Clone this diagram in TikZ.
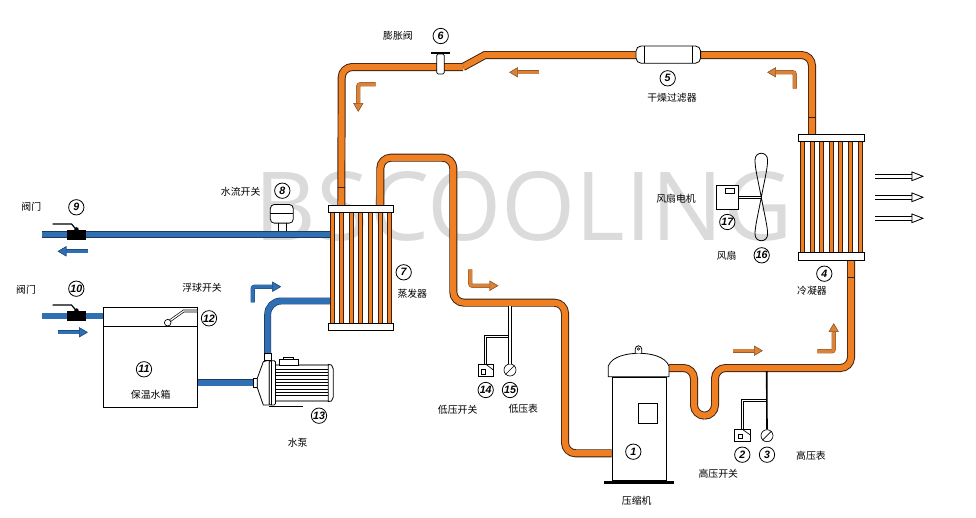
\documentclass[tikz,border=0pt]{standalone}
\usepackage{fontspec}
\setmainfont{Liberation Sans}
\newfontfamily\cjk{Noto Sans CJK SC}
\newfontfamily\wmfont{Open Sans}
\usetikzlibrary{arrows.meta}
\definecolor{pipeorange}{HTML}{EE7F22}
\definecolor{pipeblue}{HTML}{2F70B4}
\definecolor{pipeedge}{HTML}{3A2010}
\definecolor{blueedge}{HTML}{1C3A5C}
\definecolor{flowfill}{HTML}{D9823A}
\tikzset{
    pipe/.style={preaction={draw=pipeedge, line width=6pt}, draw=pipeorange, line width=4.6pt, rounded corners=8pt},
    waterpipe/.style={preaction={draw=blueedge, line width=5.2pt}, draw=pipeblue, line width=4.2pt, rounded corners=10pt},
    tube/.style={preaction={draw=pipeedge, line width=3.6pt}, draw=pipeorange, line width=2.6pt},
    branch/.style={preaction={draw=black, line width=2.4pt}, draw=white, line width=1pt},
    flowarrow/.style={preaction={draw=#1!70!black, line width=3.2pt, rounded corners=1.5pt}, draw=#1, line width=2.4pt, rounded corners=1.5pt,
        -{Triangle[length=6.5pt,width=7.5pt,fill=#1,color=#1!70!black,line width=0.4pt]}},
    outarrow/.style={preaction={draw=black, line width=3.4pt}, draw=white, line width=2.4pt,
        -{Triangle[length=9pt,width=7pt,fill=white,color=black,line width=0.5pt]}},
    header/.style={draw=black, fill=white, line width=0.6pt, minimum height=5.6pt, inner sep=0pt},
    part/.style={draw=black, fill=white, line width=0.6pt, inner sep=0pt},
    num/.style={draw=black, fill=white, circle, line width=0.6pt, minimum size=11.5pt, inner sep=0pt,
        font=\fontsize{8}{8}\selectfont\itshape\bfseries},
    lbl/.style={inner sep=0pt, font=\fontsize{7.4}{8}\cjk},
    gauge/.style={draw=black, fill=white, circle, line width=0.5pt, minimum size=9pt, inner sep=0pt},
    valvebody/.style={fill=black, minimum width=13.8pt, minimum height=7pt, inner sep=0pt},
}
\begin{document}
\begin{tikzpicture}[x=0.75pt, y=-0.75pt]
    \useasboundingbox (0,0) rectangle (976,518);
    \node[inner sep=0pt, text=black!14, font=\fontsize{71.5}{76}\wmfont] (watermark) at (524,206) {BSCOOLING};

    \coordinate (expin) at (485,55);
    \coordinate (evapin) at (341.3,206);
    \coordinate (evapout) at (380.3,206);
    \coordinate (compin) at (611.7,453.3);
    \coordinate (compout) at (669,368);
    \coordinate (condin) at (812,135);
    \coordinate (condout) at (851,260);
    \coordinate (pumpout) at (267.7,353.3);

    \draw[pipe] (condin) -- (812,55) -- (690,55);
    \draw[pipe, rounded corners=0pt] (646,55) -- (expin) -- (463,67);
    \draw[pipe] (463,67) -- (341.7,67) -- (evapin);
    \node[part, minimum width=48.5pt, minimum height=13pt, rounded corners=4pt] (filter) at (668.3,54.6) {};
    \draw[pipe] (evapout) -- (380.3,157.7) -- (453.3,157.7) -- (453.3,302.7) -- (565,302.7) -- (565,453.3) -- (compin);
    \draw[pipe] (compout) -- (694,368) -- (694,415.7) -- (715,415.7) -- (715,368) -- (851,368) -- (condout);
    \draw[pipeedge, line width=0.5pt] (337.7,187.7) -- (344.9,187.7);
    \draw[pipeedge, line width=0.5pt] (808,117) -- (816,117);
    \draw[pipeedge, line width=0.5pt] (847,277.3) -- (855,277.3);

    \draw (644,46.2) -- (644,63);
    \draw (692,46.2) -- (692,63);

    \node[part, minimum width=5.5pt, minimum height=15pt, rounded corners=1pt] (expvalve) at (440.5,64) {};
    \draw[black, line width=1.6pt] (431,53.3) -- (449.5,53.3);

    \coordinate (water) at (330,234.3);
    \coordinate (wateroutend) at (42.3,234.3);
    \coordinate (waterfeed) at (42.3,316);
    \coordinate (waterret) at (330,301);
    \coordinate (pumpin) at (253.3,382.7);
    \node[part, minimum width=70.5pt, minimum height=75pt, anchor=north west] (tank) at (103.3,307.3) {};
    \draw[waterpipe] (water) -- (wateroutend);
    \draw[waterpipe] (waterfeed) -- (tank.west |- waterfeed);
    \draw[waterpipe] (tank.east |- pumpin) -- (pumpin);
    \draw[waterpipe] (pumpout) -- (267.7,301) -- (waterret);
    \draw (103.3,326) -- (197.3,326);

    \foreach \x/\y/\nm in {76.5/234.9/out, 76.5/316/feed} {
        \node[valvebody] (valve\nm) at (\x,\y) {};
        \draw[black, line width=0.9pt] (\x-24,\y-11) -- (\x-5,\y-11) -- (\x,\y-5);
        \fill[black] (\x,\y-5.5) circle (2.2);
    }

    \foreach \x in {332.3,341.3,351.3,360.3,370.3,380.3,389.7}
        \draw[tube] (\x,212) -- (\x,324);
    \node[header, minimum width=48.7pt] (evaptop) at (360.8,209) {};
    \node[header, minimum width=48.7pt] (evapbot) at (360.8,327) {};

    \foreach \x in {802.3,812.3,821.3,831.3,840.3,850.3,860.3}
        \draw[tube] (\x,141) -- (\x,253);
    \node[header, minimum width=49.5pt] (condtop) at (831.3,138) {};
    \node[header, minimum width=49.5pt] (condbot) at (831.3,256.5) {};

    \node[part, minimum width=16.8pt, minimum height=18pt] (fanmotor) at (727.5,197.3) {};
    \draw[line width=0.5pt] (725.3,188.3) rectangle (734.7,193.7);
    \coordinate (fanhub) at (761.3,197.3);
    \draw[branch] (fanmotor.east) -- (fanhub);
    \draw[line width=0.6pt] (fanhub) .. controls (757.5,178) and (755,168) .. (755,160)
        .. controls (755,151) and (767.6,151) .. (767.6,160)
        .. controls (767.6,168) and (765,178) .. (fanhub)
        .. controls (757.5,217) and (755,227) .. (755,234)
        .. controls (755,243) and (767.6,243) .. (767.6,234)
        .. controls (767.6,227) and (765,217) .. (fanhub);

    \foreach \y/\nm in {176.3/a,197.3/b,218.3/c} {
        \coordinate (out\nm) at (875.3,\y);
        \coordinate (outend\nm) at (923.7,\y);
        \draw[outarrow] (out\nm) -- (outend\nm);
    }

    \node[part, minimum width=40.5pt, minimum height=77.5pt, anchor=north west] (compbody) at (611.7,376.7) {};
    \draw[part] (608.3,376.7) -- (608.3,366) .. controls (612,356) and (628,353.3) .. (638.7,353.3)
        .. controls (650,353.3) and (665,356) .. (669,366) -- (669,376.7) -- cycle;
    \draw[part] (635.3,353.3) -- (635.3,349) arc (180:360:3.2) -- (641.7,353.3);
    \draw[line width=0.4pt] (638.5,349) circle (1.3);
    \fill[black] (604,480.5) rectangle (673.7,483.5);
    \draw[line width=0.6pt] (638.3,403.3) rectangle (657.7,423.3);

    \coordinate (lowtap) at (510,306);
    \coordinate (lowbend) at (510,336.7);
    \node[gauge] (lowgauge) at (510,370) {};
    \node[part, minimum width=11.2pt, minimum height=9.5pt] (lowswitch) at (485.8,370.3) {};
    \draw[branch] (lowbend) -- (485.7,336.7) -- (485.7,364);
    \draw[branch] (lowtap) -- (lowgauge.north);
    \draw[line width=0.5pt] (lowgauge.south west) -- (lowgauge.north east);
    \draw[line width=0.5pt] (481.3,369.3) rectangle (485.7,374);
    \draw[line width=0.5pt] (485.7,364) -- (493.3,370);

    \coordinate (hightap) at (766.7,371);
    \coordinate (highbend) at (766.7,400.7);
    \node[gauge] (highgauge) at (767,435.7) {};
    \node[part, minimum width=12pt, minimum height=9.3pt] (highswitch) at (742.3,435.5) {};
    \draw[branch] (highbend) -- (742.3,400.7) -- (742.3,429.3);
    \draw[black, line width=1.2pt] (hightap) -- (highgauge.north);
    \draw[line width=0.5pt] (highgauge.south west) -- (highgauge.north east);
    \draw[line width=0.5pt] (738.3,434) rectangle (742.7,438.3);
    \draw[line width=0.5pt] (742.3,429.3) -- (750.3,435);

    \node[part, minimum width=17.2pt, minimum height=14pt, rounded corners=3pt] (flowswitch) at (281.8,213.8) {};
    \draw (270.3,213.3) -- (293.3,213.3);
    \draw (278.3,223.3) -- (278.3,230.5);
    \draw (286.7,223.3) -- (286.7,230.5);

    \draw[part, line width=0.4pt] (183.3,310) -- (197.3,310) -- (197.3,312) -- (184,312) -- (170,322) -- (168.5,320.5) -- cycle;
    \draw[fill=white, line width=0.5pt] (167.7,322.7) circle (3.3);

    \draw[black!45, line width=1.2pt] (275,365) -- (328.3,365);
    \draw[black!45, line width=1.2pt] (275,401) -- (328.3,401);
    \foreach \y in {369,372.3,...,398}
        \draw[black, line width=0.45pt] (275,\y) -- (328,\y);
    \draw[line width=0.6pt, fill=white] (328.3,364.5) -- (331.5,365) -- (333.3,369) -- (333.3,397) -- (331.5,401) -- (328.3,401.5) -- cycle;
    \draw[part] (253.3,378.3) rectangle (257.3,387.7);
    \draw[part] (257.3,378.3) -- (263.3,361.7) -- (269.3,360) -- (269.3,405) -- (263.3,405) -- (257.3,387.7) -- cycle;
    \draw[part, rounded corners=1pt] (269.3,360.7) rectangle (275.5,405);
    \draw[line width=0.5pt] (271.3,360.7) -- (271.3,405);
    \draw[part] (279.3,359.5) rectangle (298.3,365);
    \draw[part] (283.5,357) rectangle (293.5,359.5);
    \draw[part] (264.3,353.3) rectangle (271,360.7);
    \draw[line width=0.7pt] (269.3,406.3) -- (302.7,406.3);

    \coordinate (fa) at (539.3,72.3);       \coordinate (fb) at (509.3,72.3);
    \coordinate (fc) at (375.7,84.3);       \coordinate (fd) at (358.3,111.7);
    \coordinate (fe) at (794.7,88.7);       \coordinate (ff) at (767.3,72.3);
    \coordinate (fg) at (470.3,269.3);      \coordinate (fh) at (498.3,285.7);
    \coordinate (fi) at (733.3,350.7);      \coordinate (fj) at (762.7,350.7);
    \coordinate (fk) at (817.3,351.3);      \coordinate (fl) at (833.7,323.3);
    \coordinate (fm) at (87.7,251.3);       \coordinate (fn) at (57.7,251.3);
    \coordinate (fo) at (57.7,332.3);       \coordinate (fp) at (87.7,332.3);
    \coordinate (fq) at (252.7,302.3);      \coordinate (fr) at (281,286.7);
    \draw[flowarrow=flowfill] (fa) -- (fb);
    \draw[flowarrow=flowfill] (fc) -| (fd);
    \draw[flowarrow=flowfill] (fe) |- (ff);
    \draw[flowarrow=flowfill] (fg) |- (fh);
    \draw[flowarrow=flowfill] (fi) -- (fj);
    \draw[flowarrow=flowfill] (fk) -| (fl);
    \draw[flowarrow=pipeblue] (fm) -- (fn);
    \draw[flowarrow=pipeblue] (fo) -- (fp);
    \draw[flowarrow=pipeblue] (fq) |- (fr);

    \node[num] (n1) at (633.3,451.7) {1};
    \node[num] (n2) at (742.3,454.7) {2};
    \node[num] (n3) at (767,454.7) {3};
    \node[num] (n4) at (824.3,273.7) {4};
    \node[num] (n5) at (667.7,78.3) {5};
    \node[num] (n6) at (440.7,36) {6};
    \node[num] (n7) at (403.7,272.3) {7};
    \node[num] (n8) at (282.3,190.7) {8};
    \node[num] (n9) at (76.3,207.3) {9};
    \node[num] (n10) at (76.3,288.7) {10};
    \node[num] (n11) at (144,369.3) {11};
    \node[num] (n12) at (209,318.3) {12};
    \node[num] (n13) at (319,415.7) {13};
    \node[num] (n14) at (485.7,390) {14};
    \node[num] (n15) at (510,390) {15};
    \node[num] (n16) at (761.7,255.3) {16};
    \node[num] (n17) at (727.3,222) {17};

    \node[lbl] (lcomp) at (636.7,501) {压缩机};
    \node[lbl] (lhighsw) at (718.3,473.3) {高压开关};
    \node[lbl] (lhighg) at (811,455.3) {高压表};
    \node[lbl] (lcond) at (812,290.3) {冷凝器};
    \node[lbl] (lfilter) at (672,98) {干燥过滤器};
    \node[lbl] (lexp) at (398,35.7) {膨胀阀};
    \node[lbl] (levap) at (412.3,293.3) {蒸发器};
    \node[lbl] (lflow) at (240.7,191.3) {水流开关};
    \node[lbl] (lvalvea) at (31.3,206.7) {阀门};
    \node[lbl] (lvalveb) at (26,289.3) {阀门};
    \node[lbl] (lfloat) at (202,287.3) {浮球开关};
    \node[lbl] (ltank) at (150.7,394.3) {保温水箱};
    \node[lbl] (lpump) at (297.7,442.7) {水泵};
    \node[lbl] (llowsw) at (457.7,409.3) {低压开关};
    \node[lbl] (llowg) at (523.3,408.3) {低压表};
    \node[lbl] (lfan) at (726.7,256) {风扇};
    \node[lbl] (lfanm) at (676,198.5) {风扇电机};
\end{tikzpicture}
\end{document}
